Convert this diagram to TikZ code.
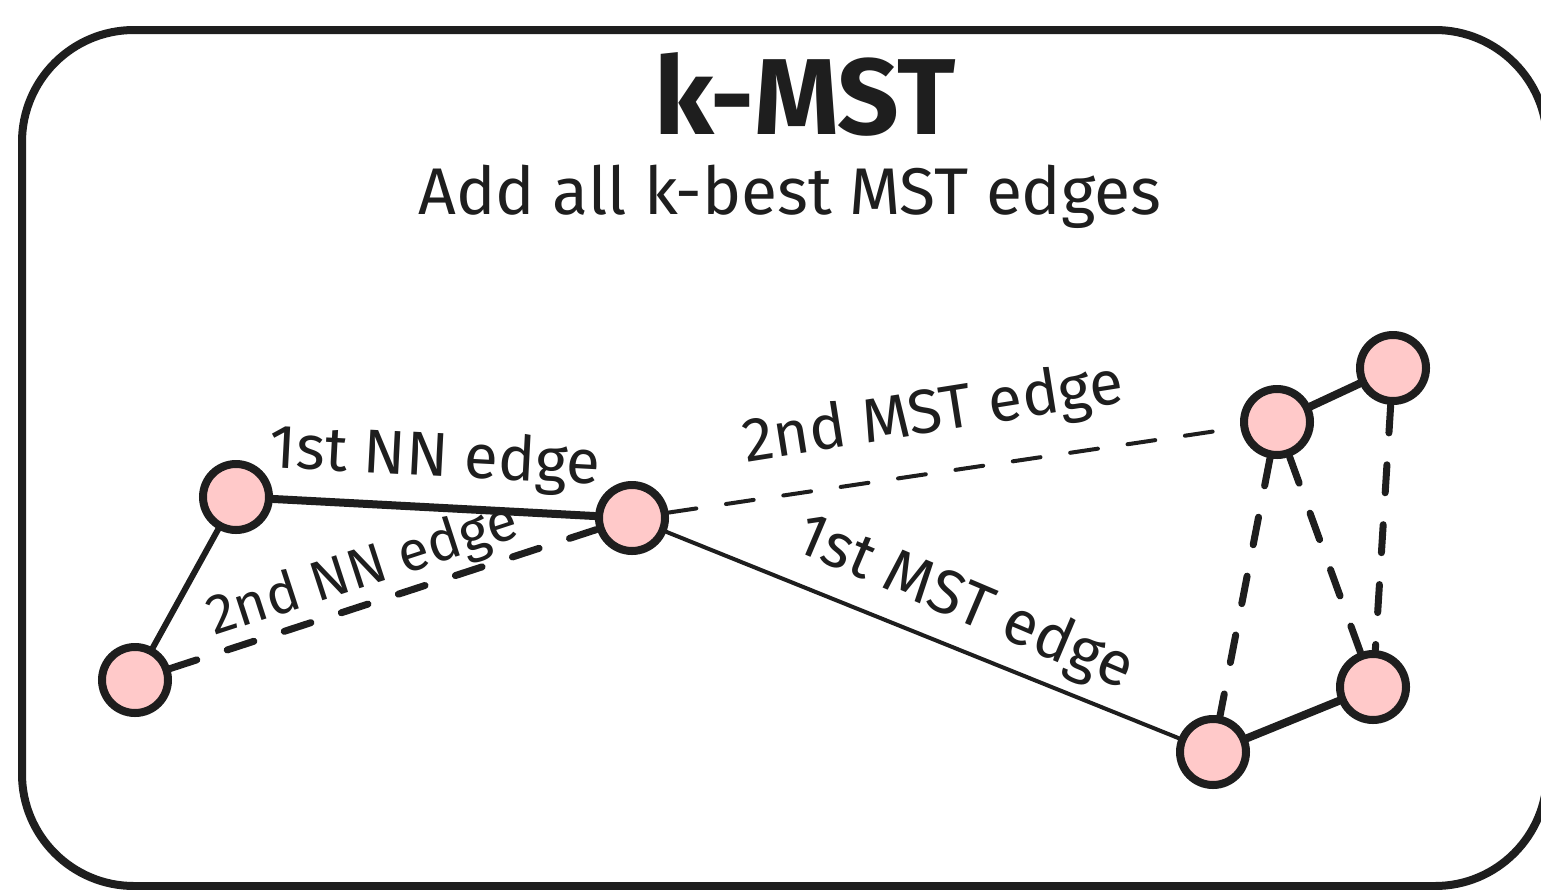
\documentclass[tikz,border=0pt]{standalone}
\usepackage{fontspec}
\setmainfont{Fira Sans}
\definecolor{ink}{HTML}{1E1E1E}
\definecolor{rose}{HTML}{FFC9C9}
\tikzset{
  vertex/.style={circle, draw=ink, fill=rose, line width=8pt, minimum size=66pt, inner sep=0pt},
  heavy/.style={draw=ink, line width=8pt, line cap=round},
  medium/.style={draw=ink, line width=6pt, line cap=round},
  light/.style={draw=ink, line width=4pt, line cap=round},
  dashheavy/.style={draw=ink, line width=7pt, line cap=round, dash pattern=on 28pt off 32pt},
  dashlight/.style={draw=ink, line width=4pt, line cap=round, dash pattern=on 28pt off 30pt},
  lbl/.style={text=ink, font=\fontsize{62}{70}\selectfont, inner sep=0pt, anchor=base},
  frame/.style={draw=ink, line width=8pt, rounded corners=112pt}
}
\begin{document}
\begin{tikzpicture}[x=1pt, y=-1pt]
  \useasboundingbox (0,0) rectangle (1541,889);
  \clip (0,0) rectangle (1541,889);
  \fill[white] (0,0) rectangle (1541,889);

  % outer frame
  \path[frame] (22,30) rectangle (1547,886);

  % headings
  \node[text=ink, font=\fontsize{108}{116}\selectfont\bfseries, anchor=base, inner sep=0pt] (title) at (805,134) {k-MST};
  \node[text=ink, font=\fontsize{66}{74}\selectfont, anchor=base, inner sep=0pt] (subtitle) at (790,214) {Add all k-best MST edges};

  % vertices
  \node[vertex] (a) at (236,497) {};
  \node[vertex] (b) at (135,680) {};
  \node[vertex] (c) at (632,518) {};
  \node[vertex] (d) at (1277,422) {};
  \node[vertex] (e) at (1393,368) {};
  \node[vertex] (f) at (1213,752) {};
  \node[vertex] (g) at (1373,687) {};

  % nearest-neighbour edges
  \path[medium] (a) -- (b);
  \path[heavy] (a) -- (c);
  \path[dashheavy] (b) -- (c);

  % MST edges
  \path[light] (c) -- (f);
  \path[dashlight] (c) -- (d);
  \path[heavy] (d) -- (e);
  \path[heavy] (f) -- (g);
  \path[dashheavy] (d) -- (f);
  \path[dashheavy] (d) -- (g);
  \path[dashheavy] (e) -- (g);

  % edge labels
  \node[lbl, rotate=-3] (l1) at (434,476) {1st NN edge};
  \node[lbl, rotate=18, font=\fontsize{56}{64}\selectfont] (l2) at (368,586) {2nd NN edge};
  \node[lbl, rotate=9] (l3) at (936,432) {2nd MST edge};
  \node[lbl, rotate=-23] (l4) at (958,620) {1st MST edge};
\end{tikzpicture}
\end{document}
